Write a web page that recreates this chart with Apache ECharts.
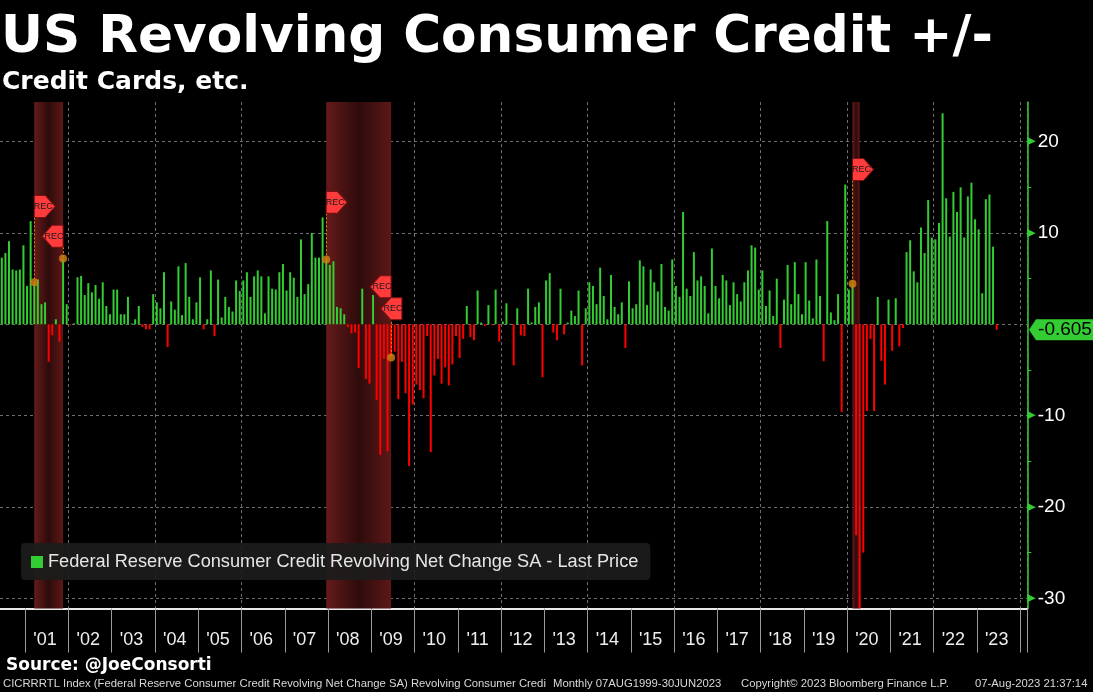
<!DOCTYPE html>
<html>
<head>
<meta charset="utf-8">
<title>US Revolving Consumer Credit +/-</title>
<script src="https://cdn.jsdelivr.net/npm/echarts@6/dist/echarts.min.js"></script>
<style>
  html, body { margin: 0; padding: 0; background: #000; }
  #chart { width: 1093px; height: 692px; }
</style>
</head>
<body>
<div id="chart"></div>
<script>
// Revolving consumer credit, monthly net change ($bn, SA), Jun 2000 .. Jun 2023
const netChange = [
  7.3, 7.8, 9.1, 6.0, 5.9, 6.0, 8.65,                                   // 2000 Jun-Dec
  4.2, 11.3, 4.6, 4.9, 2.2, 2.4, -4.1, -1.2, 0.55, -1.9, 7.2, 2.2,      // 2001
  -0.1, 0.1, 5.15, 5.3, 3.2, 4.5, 3.5, 4.3, 2.8, 4.6, 2.0, 1.1,        // 2002
  3.8, 3.8, 1.1, 1.1, 3.0, 0.1, 0.55, 2.0, -0.3, -0.55, -0.55, 3.3,    // 2003
  2.4, 1.75, 5.7, -2.5, 2.5, 1.6, 6.35, 1.0, 6.7, 3.0, 0.55, 2.4,      // 2004
  5.15, -0.55, 0.55, 5.9, -1.3, 4.9, 0.75, 3.0, 1.9, 1.4, 4.8, 3.65,   // 2005
  4.8, 5.7, 3.0, 5.25, 5.9, 5.25, 1.2, 5.25, 3.9, 3.8, 5.7, 6.6,       // 2006
  3.7, 5.7, 5.1, 3.0, 9.3, 3.3, 4.4, 10.0, 7.3, 7.3, 11.7, 7.1,        // 2007
  6.5, 6.9, 1.9, 1.75, 1.1, -0.3, -1.0, -0.9, -4.8, 3.9, -6.0, -6.5,   // 2008
  3.2, -8.3, -14.3, -3.8, -13.9, -3.65, -3.0, -8.2, -4.1, -7.55, -15.5, -8.8, // 2009
  -6.6, -7.2, -8.1, -1.3, -14.0, -5.6, -3.8, -6.5, -4.7, -6.7, -4.4, -1.3,    // 2010
  -3.7, -1.6, 2.0, -1.4, -1.75, 3.7, 0.2, -0.2, 2.1, -0.1, 3.8, -1.9,  // 2011
  0.3, 2.3, 0.05, -4.5, 1.75, -1.2, -1.3, 3.9, 0.2, 1.9, 2.4, -5.8,    // 2012
  4.8, 5.6, -0.9, -1.75, 3.9, -1.1, 0.2, 1.5, 0.9, 3.7, -4.5, 1.75,    // 2013
  4.6, 4.2, 2.2, 6.2, 3.1, 0.55, 5.4, 1.9, 1.1, 2.4, -2.6, 4.7,        // 2014
  1.75, 2.2, 7.0, 6.35, 2.1, 6.0, 4.6, 3.6, 6.6, 1.9, 1.5, 7.1,        // 2015
  4.2, 3.0, 12.3, 3.9, 3.1, 7.9, 4.8, 5.25, 4.2, 1.2, 8.3, 4.2,        // 2016
  2.85, 5.4, 4.8, 2.1, 4.6, 3.3, 2.5, 4.6, 5.9, 8.65, 8.4, 3.8,        // 2017
  5.9, 2.0, 3.7, 0.9, 5.0, -2.6, 2.7, 6.5, 2.2, 6.8, 3.3, 1.1,         // 2018
  6.8, 2.6, 0.65, 7.1, 3.1, -4.05, 11.3, 1.3, 0.45, 3.3, -9.6, 15.3,   // 2019
  3.8, 4.45, -23.1, -31.3, -25.0, -9.5, -1.6, -9.5, 3.0, -4.0, -6.6, 2.7, // 2020
  -2.9, 2.85, -2.4, -0.4, 7.9, 9.2, 5.8, 4.6, 10.6, 7.8, 13.6, 9.5,    // 2021
  9.3, 11.1, 23.1, 13.8, 9.6, 14.5, 12.3, 15.0, 9.5, 14.0, 15.5, 11.5, // 2022
  10.4, 3.4, 13.7, 14.2, 8.5, -0.605                                   // 2023 Jan-Jun
];

// the time axis runs from Jun 2000 to a few months past the last print
const firstMonth = [2000, 6];
const axisMonths = 285;
const months = [];
for (let i = 0; i < axisMonths; i++) {
  const m = firstMonth[1] - 1 + i;
  months.push((firstMonth[0] + Math.floor(m / 12)) + '-' + String(m % 12 + 1).padStart(2, '0'));
}

// NBER recessions (peak, trough)
const recessions = [['2001-03', '2001-11'], ['2007-12', '2009-06'], ['2020-02', '2020-04']];
// REC event flags: month, level, side
const recFlags = [
  ['2001-03', 12.9, 'start'],
  ['2001-11', 9.65, 'end'],
  ['2007-12', 13.35, 'start'],
  ['2009-06', 4.1, 'end'],
  ['2009-09', 1.7, 'end'],
  ['2020-02', 16.95, 'start']
];
const eventMonths = ['2001-03', '2001-11', '2007-12', '2009-06', '2020-02'];

const yMin = -31.12;
const yMax = 24.34;

const green = '#33cc33';
const red = '#ff0000';
const seriesName = 'Federal Reserve Consumer Credit Revolving Net Change SA - Last Price';
const lastValue = netChange[netChange.length - 1];

const chart = echarts.init(document.getElementById('chart'));

const shadeColor = {
  type: 'linear', x: 0, y: 0, x2: 1, y2: 0,
  colorStops: [
    { offset: 0, color: '#661a1a' },
    { offset: 0.5, color: '#2e0b0b' },
    { offset: 1, color: '#5e1717' }
  ]
};

const flagRight = 'path://M0,0 L11,0 L21,11 L11,22 L0,22 Z';
const flagLeft = 'path://M21,0 L10,0 L0,11 L10,22 L21,22 Z';

const flagPoints = recFlags.map(f => ({
  coord: [f[0], f[1]],
  symbol: f[2] === 'start' ? flagRight : flagLeft,
  symbolOffset: [f[2] === 'start' ? 10.5 : -10.5, 0],
  label: { offset: [f[2] === 'start' ? -1.5 : 1.5, 0] }
}));

const dotPoints = eventMonths.map(m => ({
  coord: [m, netChange[months.indexOf(m)]]
}));

const leadLines = eventMonths.map(m => {
  const flag = recFlags.find(f => f[0] === m);
  return [{ coord: [m, flag[1] - 1.2] }, { coord: [m, netChange[months.indexOf(m)]] }];
});

const footFont = '11.3px "Liberation Sans"';

let option = {
  backgroundColor: '#000',
  animation: false,
  title: [
    {
      text: 'US Revolving Consumer Credit +/-',
      left: 1, top: 13, padding: 0,
      textStyle: { color: '#fff', fontFamily: 'DejaVu Sans', fontWeight: 'bold', fontSize: 51.7 }
    },
    {
      text: 'Credit Cards, etc.',
      left: 2, top: 70, padding: 0,
      textStyle: { color: '#fff', fontFamily: 'DejaVu Sans', fontWeight: 'bold', fontSize: 25 }
    }
  ],
  legend: {
    data: [{ name: seriesName, itemStyle: { color: green } }],
    left: 21, top: 543,
    icon: 'rect', itemWidth: 12, itemHeight: 12,
    padding: [10, 12, 9, 10],
    backgroundColor: 'rgba(28,28,28,0.92)',
    borderRadius: 4,
    textStyle: { color: '#e6e6e6', fontSize: 18.2, fontFamily: 'Liberation Sans' }
  },
  grid: {
    left: -1.4,
    right: 65.7,
    top: 102,
    bottom: 83.5
  },
  xAxis: {
    type: 'category',
    data: months,
    axisLine: { onZero: false, lineStyle: { color: '#e8e8e8', width: 2 } },
    axisTick: {
      show: true, length: 44,
      interval: (i, v) => v.endsWith('-01'),
      lineStyle: { color: '#9a9a9a' }
    },
    axisLabel: {
      interval: (i, v) => v.endsWith('-06') && v > '2000-12',
      formatter: v => "'" + v.slice(2, 4),
      color: '#eeeeee', fontSize: 18, fontFamily: 'Liberation Sans',
      margin: 23
    },
    splitLine: {
      show: true,
      interval: (i, v) => v.endsWith('-01') && Number(v.slice(0, 4)) % 2 === 0,
      lineStyle: { color: '#6e6e6e', type: [3, 3] }
    }
  },
  yAxis: {
    type: 'value',
    position: 'right',
    min: yMin,
    max: yMax,
    axisLine: { show: true, lineStyle: { color: green, width: 1.5 } },
    axisTick: { show: false },
    minorTick: { show: true, splitNumber: 2, length: 4, lineStyle: { color: green } },
    minorSplitLine: { show: false },
    splitLine: {
      show: true, showMinLine: false, showMaxLine: false,
      lineStyle: { color: '#6e6e6e', type: [3, 3] }
    },
    axisLabel: {
      showMinLabel: false,
      showMaxLabel: false,
      margin: 0,
      formatter: v => v === 0 ? '' : '{t|\u25B6}{v|' + v + '}',
      rich: {
        t: { color: green, fontSize: 11, fontFamily: 'DejaVu Sans', padding: [0, 2, 0, 0] },
        v: { color: '#ffffff', fontSize: 19, fontFamily: 'Liberation Sans' }
      }
    }
  },
  series: [
    {
      name: seriesName,
      type: 'bar',
      barWidth: 2,
      z: 2,
      itemStyle: { color: green },
      data: netChange.map(v => ({ value: v, itemStyle: { color: v < 0 ? red : green } }))
    },
    {
      name: 'recessions',
      type: 'line',
      data: [],
      z: 1,
      markArea: {
        silent: true,
        z: 1,
        itemStyle: { color: shadeColor, opacity: 1 },
        data: recessions.map(r => [{ xAxis: r[0] }, { xAxis: r[1] }])
      }
    },
    {
      name: 'events',
      type: 'line',
      data: [],
      markLine: {
        silent: true,
        z: 4,
        symbol: ['none', 'none'],
        label: { show: false },
        lineStyle: { color: '#d98a1a', type: [2, 2], width: 1 },
        data: leadLines
      },
      markPoint: {
        silent: true,
        z: 5,
        symbol: 'circle',
        symbolSize: 8,
        itemStyle: { color: 'rgba(205,125,20,0.85)', borderWidth: 0 },
        label: { show: false },
        data: dotPoints
      }
    },
    {
      name: 'flags',
      type: 'line',
      data: [],
      markPoint: {
        silent: true,
        z: 6,
        symbolSize: [21, 22],
        symbolKeepAspect: false,
        itemStyle: { color: '#ff3b3b', borderColor: '#7a1010', borderWidth: 1 },
        label: { show: true, formatter: 'REC', color: '#1a1a1a', fontSize: 9, fontFamily: 'Liberation Sans' },
        data: flagPoints
      }
    },
    {
      // last-price tag on the value axis
      name: 'last',
      type: 'line',
      data: [],
      clip: false,
      markPoint: {
        silent: true,
        z: 7,
        symbol: 'path://M0,10.5 L7,0 L66,0 L66,21 L7,21 Z',
        symbolSize: [66, 21],
        symbolKeepAspect: false,
        symbolOffset: [36.5, 0],
        itemStyle: { color: green, borderWidth: 0 },
        label: {
          show: true, position: 'inside', offset: [3, 0],
          formatter: String(lastValue),
          color: '#000', fontSize: 19, fontFamily: 'Liberation Sans'
        },
        data: [{ coord: [months[months.length - 1], lastValue] }]
      }
    }
  ],
  graphic: [
    {
      type: 'text', left: 6, top: 657,
      style: { text: 'Source: @JoeConsorti', fill: '#ffffff', font: 'bold 17px "DejaVu Sans"' }
    },
    {
      type: 'text', left: 3, top: 678,
      style: { text: 'CICRRRTL Index (Federal Reserve Consumer Credit Revolving Net Change SA) Revolving Consumer Credi', fill: '#d8d8d8', font: footFont }
    },
    {
      type: 'text', left: 553, top: 678,
      style: { text: 'Monthly 07AUG1999-30JUN2023', fill: '#d8d8d8', font: footFont }
    },
    {
      type: 'text', left: 741, top: 678,
      style: { text: 'Copyright\u00A9 2023 Bloomberg Finance L.P.', fill: '#d8d8d8', font: footFont }
    },
    {
      type: 'text', left: 975, top: 678,
      style: { text: '07-Aug-2023 21:37:14', fill: '#d8d8d8', font: footFont }
    }
  ]
};

chart.setOption(option);
</script>
</body>
</html>
